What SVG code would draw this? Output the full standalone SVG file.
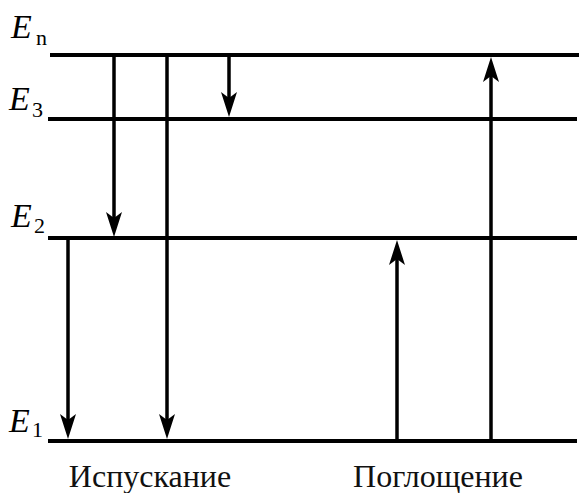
<svg xmlns="http://www.w3.org/2000/svg" width="579" height="493" viewBox="0 0 579 493">
  <defs>
    <!-- notched arrowhead, tip 18px beyond the line end -->
    <marker id="head" markerUnits="userSpaceOnUse" markerWidth="30" markerHeight="20" viewBox="0 -10 30 20" refX="7" refY="0" orient="auto">
      <path d="M25,0 L0,-8 L6,0 L0,8 Z" fill="#000"/>
    </marker>
  </defs>

  <!-- energy levels -->
  <g id="level-En">
    <line x1="50" y1="55" x2="579" y2="55" stroke="#000" stroke-width="4"/>
    <text x="11" y="38" style="font-family:'Liberation Serif',serif !important;font-style:italic;font-size:34px">E</text>
    <text x="36" y="45" style="font-family:'Liberation Serif',serif !important;font-size:22px">n</text>
  </g>
  <g id="level-E3">
    <line x1="48" y1="119" x2="577" y2="119" stroke="#000" stroke-width="4"/>
    <text x="9" y="110" style="font-family:'Liberation Serif',serif !important;font-style:italic;font-size:34px">E</text>
    <text x="32" y="117" style="font-family:'Liberation Serif',serif !important;font-size:22px">3</text>
  </g>
  <g id="level-E2">
    <line x1="48" y1="238" x2="577" y2="238" stroke="#000" stroke-width="4"/>
    <text x="11" y="227" style="font-family:'Liberation Serif',serif !important;font-style:italic;font-size:34px">E</text>
    <text x="34" y="233" style="font-family:'Liberation Serif',serif !important;font-size:22px">2</text>
  </g>
  <g id="level-E1">
    <line x1="48" y1="441" x2="577" y2="441" stroke="#000" stroke-width="4"/>
    <text x="9" y="432" style="font-family:'Liberation Serif',serif !important;font-style:italic;font-size:34px">E</text>
    <text x="32" y="437" style="font-family:'Liberation Serif',serif !important;font-size:22px">1</text>
  </g>

  <!-- transitions -->
  <g id="transitions" stroke="#000" stroke-width="3.5" marker-end="url(#head)">
    <line x1="114" y1="55" x2="114" y2="219"/>
    <line x1="167" y1="55" x2="167" y2="421"/>
    <line x1="229" y1="55" x2="229" y2="99"/>
    <line x1="68" y1="238" x2="68" y2="421"/>
    <line x1="397" y1="441" x2="397" y2="258"/>
    <line x1="491" y1="441" x2="491" y2="75"/>
  </g>

  <g id="captions" fill="#111" text-anchor="middle">
    <text x="150" y="487" style="font-family:'Liberation Serif',serif !important;font-size:32px">Испускание</text>
    <text x="438" y="487" style="font-family:'Liberation Serif',serif !important;font-size:32px">Поглощение</text>
  </g>
</svg>
